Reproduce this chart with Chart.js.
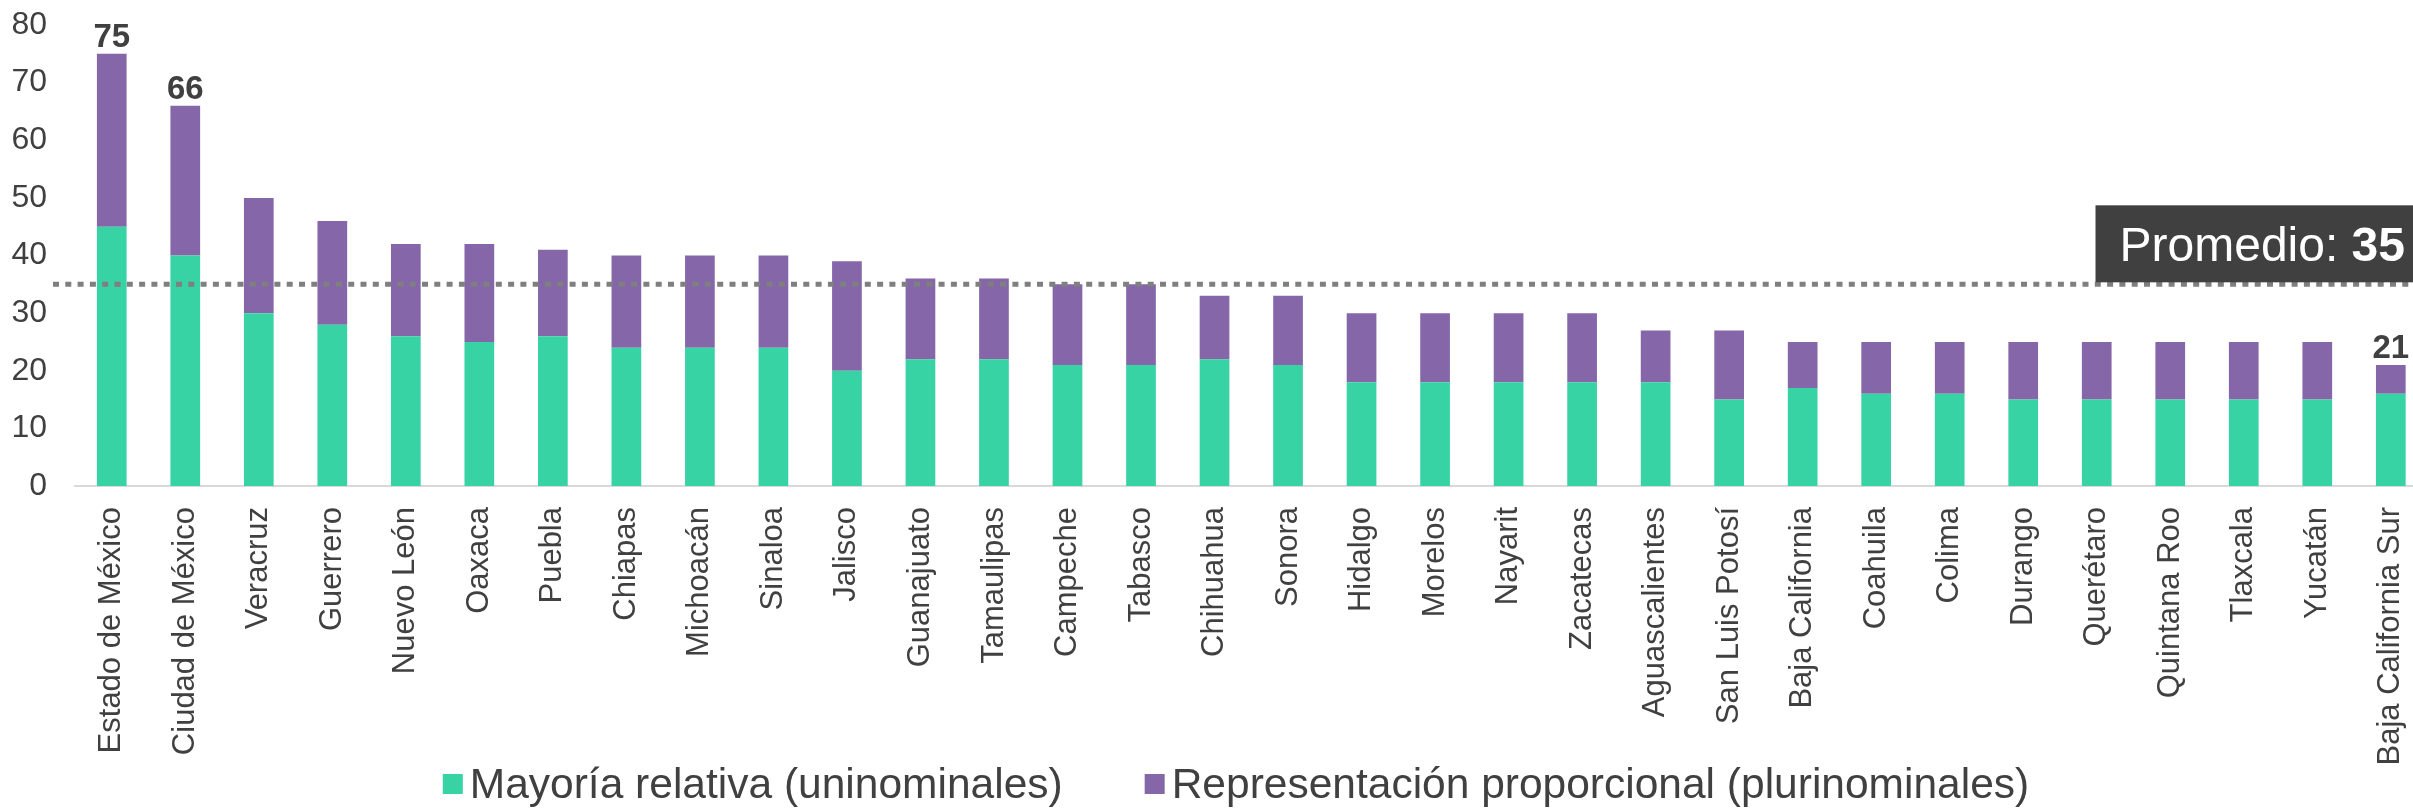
<!DOCTYPE html>
<html>
<head>
<meta charset="utf-8">
<script src="https://cdn.jsdelivr.net/npm/chart.js@4.4.1/dist/chart.umd.min.js"></script>
<style>
  html, body { margin: 0; padding: 0; background: #fff; overflow: hidden; }
  #wrap { width: 2428px; height: 808px; }
</style>
</head>
<body>
<div id="wrap"><canvas id="chart"></canvas></div>
<script>
// Diputaciones locales por entidad
const estados = [
  'Estado de México', 'Ciudad de México', 'Veracruz', 'Guerrero', 'Nuevo León',
  'Oaxaca', 'Puebla', 'Chiapas', 'Michoacán', 'Sinaloa', 'Jalisco', 'Guanajuato',
  'Tamaulipas', 'Campeche', 'Tabasco', 'Chihuahua', 'Sonora', 'Hidalgo', 'Morelos',
  'Nayarit', 'Zacatecas', 'Aguascalientes', 'San Luis Potosí', 'Baja California',
  'Coahuila', 'Colima', 'Durango', 'Querétaro', 'Quintana Roo', 'Tlaxcala',
  'Yucatán', 'Baja California Sur'
];
const mayoria = [45, 40, 30, 28, 26, 25, 26, 24, 24, 24, 20, 22, 22, 21, 21, 22,
  21, 18, 18, 18, 18, 18, 15, 17, 16, 16, 15, 15, 15, 15, 15, 16];
const representacion = [30, 26, 20, 18, 16, 17, 15, 16, 16, 16, 19, 14, 14, 14, 14, 11,
  12, 12, 12, 12, 12, 9, 12, 8, 9, 9, 10, 10, 10, 10, 10, 5];
const yTicks = [0, 10, 20, 30, 40, 50, 60, 70, 80];
const promedio = 35;
const conEtiqueta = ['Estado de México', 'Ciudad de México', 'Baja California Sur'];

const FONT = '"Liberation Sans", Arial, sans-serif';
const GRIS = '#404040';
const pageW = 2413;

const extras = {
  id: 'extras',
  afterDatasetsDraw(chart) {
    const ctx = chart.ctx;
    const area = chart.chartArea;
    const y = chart.scales.y;

    // totals above selected bars
    const top = chart.getDatasetMeta(1);
    ctx.save();
    ctx.fillStyle = GRIS;
    ctx.font = 'bold 33px ' + FONT;
    ctx.textAlign = 'center';
    ctx.textBaseline = 'alphabetic';
    estados.forEach((e, i) => {
      if (!conEtiqueta.includes(e)) return;
      const bar = top.data[i];
      ctx.fillText(String(mayoria[i] + representacion[i]), bar.x, bar.y - 7);
    });

    // average line
    const yAvg = y.getPixelForValue(promedio);
    ctx.strokeStyle = '#7f7f7f';
    ctx.lineWidth = 5;
    ctx.setLineDash([6, 6.3]);
    ctx.beginPath();
    ctx.moveTo(area.left - 22, yAvg);
    ctx.lineTo(area.right, yAvg);
    ctx.stroke();
    ctx.setLineDash([]);

    // average box
    ctx.font = '48px ' + FONT;
    const t1 = 'Promedio: ';
    const w1 = ctx.measureText(t1).width;
    ctx.font = 'bold 48px ' + FONT;
    const t2 = String(promedio);
    const w2 = ctx.measureText(t2).width;
    const textRight = pageW - 8;
    const textLeft = textRight - w1 - w2;
    const boxH = 77;
    const boxBottom = yAvg - 2;
    ctx.fillStyle = '#404040';
    ctx.fillRect(textLeft - 24, boxBottom - boxH, pageW - textLeft + 24, boxH);
    ctx.fillStyle = '#ffffff';
    ctx.textAlign = 'left';
    const base = boxBottom - boxH / 2 + 17;
    ctx.font = '48px ' + FONT;
    ctx.fillText(t1, textLeft, base);
    ctx.font = 'bold 48px ' + FONT;
    ctx.fillText(t2, textLeft + w1, base);
    ctx.restore();
  },
  afterDraw(chart) {
    // legend
    const ctx = chart.ctx;
    ctx.save();
    ctx.font = '42.5px ' + FONT;
    ctx.textBaseline = 'middle';
    ctx.textAlign = 'left';
    const box = 20, gapBox = 7, gapItem = 82;
    const items = chart.data.datasets.map(d => ({
      text: d.label, color: d.backgroundColor, w: ctx.measureText(d.label).width
    }));
    let total = gapItem * (items.length - 1);
    items.forEach(it => { total += box + gapBox + it.w; });
    let x = 1236 - total / 2;
    const yL = 784;
    items.forEach(it => {
      ctx.fillStyle = it.color;
      ctx.fillRect(x, yL - box / 2, box, box);
      ctx.fillStyle = GRIS;
      ctx.fillText(it.text, x + box + gapBox, yL + 2);
      x += box + gapBox + it.w + gapItem;
    });
    ctx.restore();
  }
};

new Chart(document.getElementById('chart'), {
  type: 'bar',
  data: {
    labels: estados,
    datasets: [
      {
        label: 'Mayoría relativa (uninominales)',
        data: mayoria,
        backgroundColor: '#37d3a4',
        barPercentage: 0.404,
        categoryPercentage: 1
      },
      {
        label: 'Representación proporcional (plurinominales)',
        data: representacion,
        backgroundColor: '#8567a9',
        barPercentage: 0.404,
        categoryPercentage: 1
      }
    ]
  },
  options: {
    responsive: true,
    maintainAspectRatio: false,
    animation: false,
    layout: { padding: { top: 25, left: 0, right: 0, bottom: 0 } },
    plugins: {
      legend: { display: false },
      tooltip: { enabled: false }
    },
    scales: {
      x: {
        stacked: true,
        // tick marks are hidden (grid off); tickLength only spaces the labels
        grid: { display: false, drawTicks: true, tickLength: 21 },
        border: { color: '#d9d9d9', width: 2 },
        ticks: {
          autoSkip: false,
          minRotation: 90,
          maxRotation: 90,
          padding: 0,
          color: GRIS,
          font: { family: FONT, size: 31 }
        },
        afterFit: s => { s.height = 322; }
      },
      y: {
        stacked: true,
        min: 0,
        max: 80,
        grid: { display: false, drawTicks: true, tickLength: 28 },
        border: { display: false },
        ticks: {
          padding: 0,
          color: GRIS,
          font: { family: FONT, size: 32 }
        },
        afterBuildTicks: s => { s.ticks = yTicks.map(v => ({ value: v })); },
        afterFit: s => { s.width = 75; }
      }
    }
  },
  plugins: [extras]
});
</script>
</body>
</html>
